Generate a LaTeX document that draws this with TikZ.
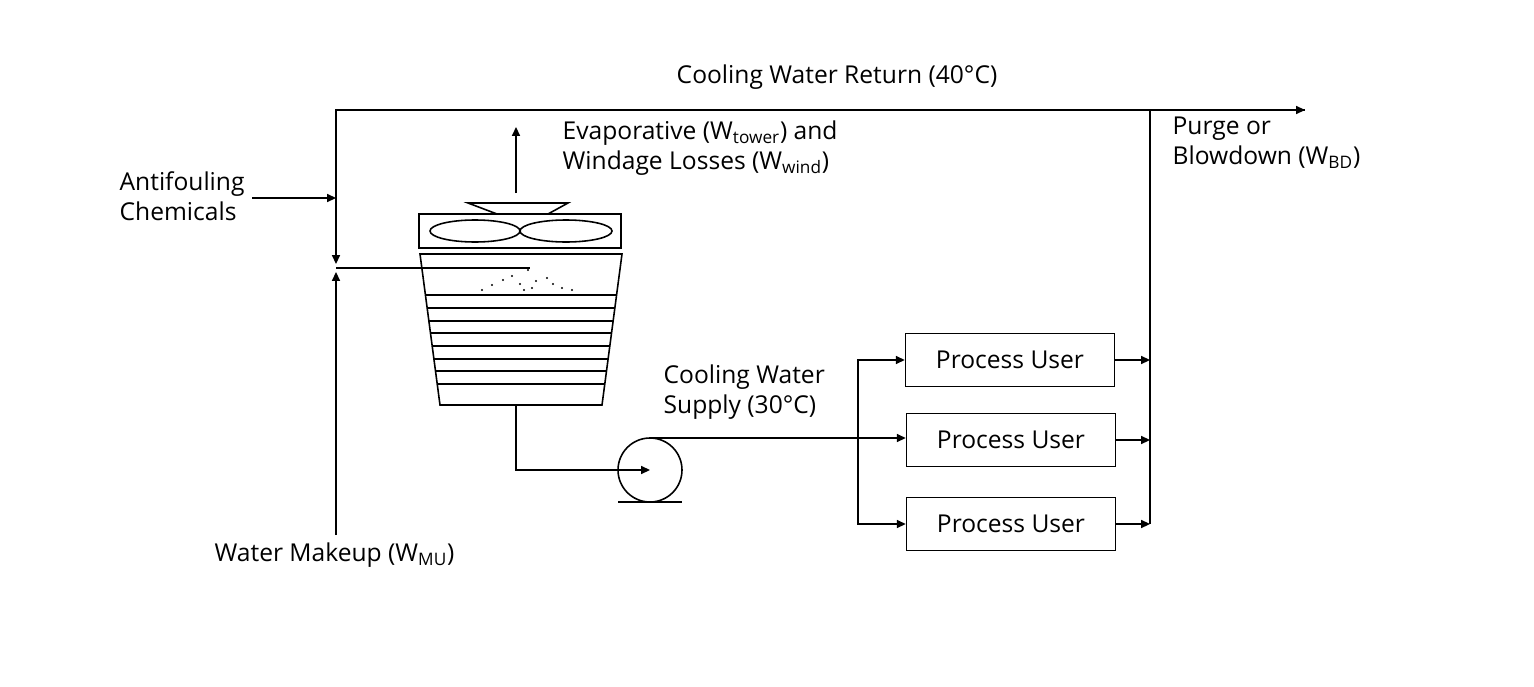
\documentclass[tikz,border=0pt]{standalone}
\usepackage{fontspec}
\setmainfont{Open Sans}
\usetikzlibrary{arrows.meta}
\begin{document}
\begin{tikzpicture}[x=0.02cm,y=-0.02cm,line width=0.9pt,
  flow/.style={-{Triangle[length=5pt,width=4.5pt]}},
  lbl/.style={font=\fontsize{14}{17}\selectfont,align=left},
  user/.style={draw,minimum width=4.18cm,minimum height=1.06cm,font=\fontsize{14}{17}\selectfont}]
\useasboundingbox (0,0) rectangle (1534,686);
% junctions
\coordinate (ret) at (336,110);
\coordinate (jn) at (336,268);
\coordinate (mu) at (336,535);
\coordinate (bd) at (1150,110);
\coordinate (out) at (1305,110);
% return line
\draw[flow] (jn |- 0,130) -- (336,264);
\draw (jn |- 0,130) -- (ret) -- (out);
\draw[flow] (bd) -- (out);
\draw[flow] (mu) -- (336,272);
\draw (jn) -- (530,268);
\coordinate (af) at (252,198);
\draw[flow] (af) -- (336,198);
% tower
\draw[flow] (516,193) -- (516,127);
\draw (497,214) -- (468,203) -- (568,203) -- (548,214);
\draw (419,214) rectangle (621,248);
\draw (475,231) ellipse (45 and 11);
\draw (566,231) ellipse (46 and 11);
\draw (420,254) -- (622,254) -- (602,405) -- (440,405) -- cycle;
\foreach \y in {295,308,321,333,346,359,371,384}
  \draw ({420+20*(\y-254)/151},\y) -- ({622-20*(\y-254)/151},\y);
\foreach \p in {(482,290),(492,285),(503,280),(512,276),(520,284),(524,290),(532,288),(536,281),(547,278),(553,284),(562,288),(572,290),(528,270)}
  \fill \p circle (1.2);
% pump
\node[draw,circle,minimum size=1.28cm,inner sep=0] (pump) at (650,470) {};
\draw (618,502) -- (682,502);
\coordinate (tb) at (516,405);
\draw[flow] (tb) -- (516,470) -- (pump.center);
% users
\node[user] (u1) at (1010,360) {Process User};
\node[user] (u2) at (1011,440) {Process User};
\node[user] (u3) at (1011,524) {Process User};
\draw[flow] (pump.north) -- (650,438) -- (u2.west |- 0,438);
\draw[flow] (858,438) |- (u1.west);
\draw[flow] (858,438) |- (u3.west);
\foreach \u in {u1,u2,u3} \draw[flow] (\u.east) -- (1150,0 |- \u.east);
\draw (1150,0 |- u3.east) -- (bd);
% labels
\node[lbl] at (837,77) {Cooling Water Return (40°C)};
\node[lbl,anchor=west] at (556,148) {Evaporative (W\textsubscript{tower}) and\\Windage Losses (W\textsubscript{wind})};
\node[lbl,anchor=west] at (1166,143) {Purge or\\Blowdown (W\textsubscript{BD})};
\node[lbl,anchor=west] at (113,196) {Antifouling\\Chemicals};
\node[lbl,anchor=west] at (657,392) {Cooling Water\\Supply (30°C)};
\node[lbl,anchor=west] at (208,555) {Water Makeup (W\textsubscript{MU})};
\end{tikzpicture}
\end{document}
